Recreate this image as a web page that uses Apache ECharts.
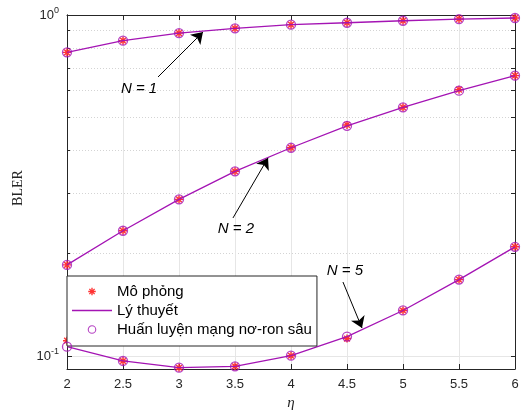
<!DOCTYPE html>
<html>
<head>
<meta charset="utf-8">
<script src="https://cdn.jsdelivr.net/npm/echarts@6/dist/echarts.min.js"></script>
<style>html,body{margin:0;padding:0;background:#fff}#c{width:524px;height:417px}</style>
</head>
<body>
<div id="c"></div>
<script>
var eta = [2, 2.5, 3, 3.5, 4, 4.5, 5, 5.5, 6];
var sim1 = [0.777, 0.841, 0.885, 0.914, 0.937, 0.949, 0.962, 0.973, 0.980];
var theory1 = [0.777, 0.841, 0.885, 0.914, 0.937, 0.949, 0.962, 0.973, 0.980];
var dnn1 = [0.777, 0.841, 0.885, 0.914, 0.937, 0.949, 0.962, 0.973, 0.980];
var sim2 = [0.185, 0.233, 0.288, 0.348, 0.408, 0.476, 0.536, 0.604, 0.664];
var theory2 = [0.185, 0.233, 0.288, 0.348, 0.408, 0.473, 0.536, 0.600, 0.664];
var dnn2 = [0.185, 0.233, 0.288, 0.348, 0.408, 0.473, 0.536, 0.600, 0.664];
var sim5 = [0.1109, 0.0967, 0.0924, 0.0933, 0.1002, 0.1125, 0.136, 0.1675, 0.209];
var theory5 = [0.1065, 0.0967, 0.0924, 0.0933, 0.1002, 0.114, 0.136, 0.1675, 0.209];
var dnn5 = [0.1065, 0.0967, 0.0924, 0.0933, 0.1002, 0.114, 0.136, 0.1675, 0.209];
var xTicks = [2, 2.5, 3, 3.5, 4, 4.5, 5, 5.5, 6];
var yMajor = [0.1, 1];
var yMinor = [0.2, 0.3, 0.4, 0.5, 0.6, 0.7, 0.8, 0.9];
var yAll = [0.1, 0.2, 0.3, 0.4, 0.5, 0.6, 0.7, 0.8, 0.9, 1];
var legendNames = ['Mô phỏng', 'Lý thuyết', 'Huấn luyện mạng nơ-ron sâu'];
var annLabels = ['N = 1', 'N = 2', 'N = 5'];
var annText = [[2.643, 0.607], [3.509, 0.2358], [4.482, 0.1775]];
var arrowTail = [[2.8125, 0.658], [3.482, 0.254], [4.464, 0.1648]];
var arrowHead = [[3.214, 0.891], [3.795, 0.381], [4.634, 0.1208]];

var PURPLE = '#a414b4';
var RED = '#ff3333';
var AX = '#262626';
var FONT = '"Liberation Sans", Arial, Helvetica, sans-serif';
var STAR = 'path://M-10,-1.8L10,-1.8L10,1.8L-10,1.8Z M1.8,-10L1.8,10L-1.8,10L-1.8,-10Z M-5.8,-8.3L8.3,5.8L5.8,8.3L-8.3,-5.8Z M-8.3,5.8L5.8,-8.3L8.3,-5.8L-5.8,8.3Z';
var LINEICON = 'path://M0,0L40,0L40,1.3L0,1.3Z';

function pairs(ys) { return eta.map(function (x, i) { return [x, ys[i]]; }); }

var series = [];
[sim1, sim2, sim5].forEach(function (d) {
  series.push({ name: legendNames[0], type: 'scatter', data: pairs(d), symbol: STAR, symbolSize: 8,
    itemStyle: { color: RED, opacity: 1 }, z: 2, silent: true });
});
[theory1, theory2, theory5].forEach(function (d) {
  series.push({ name: legendNames[1], type: 'line', data: pairs(d), symbol: 'none', showSymbol: false,
    lineStyle: { color: PURPLE, width: 1.3 }, itemStyle: { color: PURPLE }, z: 3, silent: true });
});
[dnn1, dnn2, dnn5].forEach(function (d) {
  series.push({ name: legendNames[2], type: 'scatter', data: pairs(d), symbol: 'circle', symbolSize: 9,
    itemStyle: { color: 'rgba(0,0,0,0)', borderColor: PURPLE, borderWidth: 1.3 }, z: 4, silent: true });
});
// annotations (arrows + labels) placed in data coordinates
series.push({
  name: 'ann', type: 'line', data: [], silent: true, z: 5,
  markLine: {
    silent: true, animation: false, symbol: ['none', 'arrow'], symbolSize: 11,
    lineStyle: { color: '#000', width: 1, type: 'solid' }, itemStyle: { color: '#000' }, label: { show: false },
    data: arrowTail.map(function (t, i) { return [{ coord: t }, { coord: arrowHead[i] }]; })
  },
  markPoint: {
    silent: true, animation: false, symbol: 'circle', symbolSize: 1, itemStyle: { color: 'rgba(0,0,0,0)' },
    label: { show: true, position: 'inside', color: '#000', fontSize: 15, fontStyle: 'italic', fontFamily: FONT,
      formatter: function (p) { return p.name; } },
    data: annText.map(function (c, i) { return { name: annLabels[i], coord: c }; })
  }
});

function yAxisBase(extra) {
  var a = { type: 'log', logBase: 10, min: 0.0916, max: 1, gridIndex: 0,
    axisLine: { show: true, onZero: false, lineStyle: { color: AX, width: 1 } },
    axisTick: { show: false }, axisLabel: { show: false }, splitLine: { show: false }, minorTick: { show: false }, minorSplitLine: { show: false } };
  for (var k in extra) a[k] = extra[k];
  return a;
}

var option = {
  animation: false,
  backgroundColor: '#fff',
  textStyle: { fontFamily: FONT },
  grid: { left: 67, right: 9, top: 15, bottom: 48, containLabel: false, outerBoundsMode: 'none' },
  legend: {
    data: [
      { name: legendNames[0] },
      { name: legendNames[1], icon: LINEICON, itemStyle: { color: PURPLE, borderWidth: 0 } },
      { name: legendNames[2], itemStyle: { borderWidth: 1.1 } }
    ],
    orient: 'vertical', left: 67, top: 276, itemWidth: 40, itemHeight: 7.5, itemGap: 4,
    padding: [8, 5, 9, 5], backgroundColor: '#fff', borderColor: AX, borderWidth: 1, borderRadius: 0,
    textStyle: { fontSize: 15, color: '#000', fontFamily: FONT }, selectedMode: false
  },
  xAxis: [
    { type: 'value', min: 2, max: 6, interval: 0.5, position: 'bottom', name: 'η', nameLocation: 'middle', nameGap: 27,
      nameTextStyle: { fontFamily: '"Liberation Serif", "Times New Roman", serif', fontStyle: 'italic', fontSize: 15, color: AX },
      axisLine: { show: true, onZero: false, lineStyle: { color: AX, width: 1 } },
      axisTick: { show: true, inside: true, length: 5, lineStyle: { color: AX } },
      axisLabel: { color: AX, fontSize: 13, margin: 9, formatter: function (v) { return String(v); } },
      splitLine: { show: true, lineStyle: { color: '#e6e6e6', width: 1 } } },
    { type: 'value', min: 2, max: 6, interval: 0.5, position: 'top',
      axisLine: { show: true, onZero: false, lineStyle: { color: AX, width: 1 } },
      axisTick: { show: true, inside: true, length: 5, lineStyle: { color: AX } },
      axisLabel: { show: false }, splitLine: { show: false } }
  ],
  yAxis: [
    yAxisBase({ position: 'left', name: 'BLER', nameLocation: 'middle', nameGap: 40,
      nameTextStyle: { fontFamily: '"Liberation Serif", "Times New Roman", serif', fontSize: 14, color: AX, padding: [0, 0, 0, 8] },
      axisTick: { show: true, inside: true, length: 5, lineStyle: { color: AX }, customValues: yMajor },
      axisLabel: { show: true, color: AX, fontSize: 13, margin: 8, customValues: yMajor,
        formatter: function (v) { return v >= 0.99 ? '10{s|0}' : '10{s|-1}'; },
        rich: { s: { fontSize: 9, verticalAlign: 'top', padding: [0, 0, 8, 0], color: AX } } },
      splitLine: { show: true, lineStyle: { color: '#e6e6e6', width: 1 } } }),
    yAxisBase({ position: 'left', offset: 0,
      axisTick: { show: true, inside: true, length: 3, lineStyle: { color: AX }, customValues: yMinor },
      splitLine: { show: true, lineStyle: { color: '#d4d4d4', width: 1, type: [1, 2] } } }),
    yAxisBase({ position: 'right', offset: 0,
      axisTick: { show: true, inside: true, length: 4, lineStyle: { color: AX }, customValues: yAll } })
  ],
  series: series
};
var chart = echarts.init(document.getElementById('c'), null, { renderer: 'canvas' });
chart.setOption(option);
</script>
</body>
</html>
